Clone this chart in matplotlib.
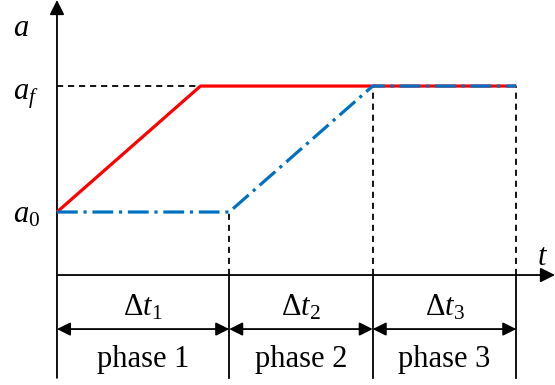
"""
Acceleration profile over three phases: the red line ramps a0 -> af during
phase 1, the blue dash-dot line holds a0 through phase 1 and ramps in phase 2.
"""

import matplotlib

matplotlib.use("Agg")
import matplotlib.pyplot as plt

plt.rcParams["font.family"] = ["Liberation Serif", "DejaVu Serif"]
plt.rcParams["mathtext.fontset"] = "custom"
plt.rcParams["mathtext.rm"] = "Liberation Serif"
plt.rcParams["mathtext.it"] = "Liberation Serif:italic"

# phase boundaries in time units
T_BREAKS = [0.0, 1.2, 2.2, 3.2]
A0, AF = 0.0, 1.0

# red profile: ramp during phase 1, then hold
RED_T = [0.0, 1.0, 3.2]
RED_A = [A0, AF, AF]

# blue profile: hold during phase 1, ramp during phase 2, then hold
BLUE_T = [0.0, 1.2, 2.2, 3.2]
BLUE_A = [A0, A0, AF, AF]

DURATION_LABELS = [r"$\Delta t_1$", r"$\Delta t_2$", r"$\Delta t_3$"]
PHASE_LABELS = ["phase 1", "phase 2", "phase 3"]

AXIS_Y = -0.5      # level where the time axis is drawn
TABLE_BOTTOM = -1.317
ARROW_Y = -0.929
FS = 22

fig = plt.figure(figsize=(5.55, 3.85), dpi=100)
ax = fig.add_axes([0, 0, 1, 1])
ax.set_xlim(-0.397, 3.470)
ax.set_ylim(-1.373, 1.683)
ax.axis("off")

# axes with arrow heads
ax.annotate("", xy=(0, 1.683), xytext=(0, TABLE_BOTTOM),
            arrowprops=dict(arrowstyle="-|>", lw=1.3, color="black",
                            mutation_scale=22, shrinkA=0, shrinkB=0))
ax.annotate("", xy=(3.470, AXIS_Y), xytext=(0, AXIS_Y),
            arrowprops=dict(arrowstyle="-|>", lw=1.3, color="black",
                            mutation_scale=22, shrinkA=0, shrinkB=0))

# dashed guides
guide = dict(color="black", lw=1.3, ls=(0, (3.4, 2.7)))
ax.plot([0, T_BREAKS[2]], [AF, AF], **guide)
ax.plot([T_BREAKS[1], T_BREAKS[1]], [AXIS_Y, A0], **guide)
ax.plot([T_BREAKS[2], T_BREAKS[2]], [AXIS_Y, AF], **guide)
ax.plot([T_BREAKS[3], T_BREAKS[3]], [AXIS_Y, AF], **guide)

# profiles
ax.plot(RED_T, RED_A, color="#ff0000", lw=2.3, solid_capstyle="butt", zorder=3)
ax.plot(BLUE_T, BLUE_A, color="#0070c0", lw=2.3,
        ls=(0, (6.5, 1.8, 1.0, 1.8)), zorder=4)

# phase table under the time axis
for t in T_BREAKS[1:]:
    ax.plot([t, t], [AXIS_Y, TABLE_BOTTOM], color="black", lw=1.3)

for i in range(3):
    t_lo, t_hi = T_BREAKS[i], T_BREAKS[i + 1]
    ax.annotate("", xy=(t_hi, ARROW_Y), xytext=(t_lo, ARROW_Y),
                arrowprops=dict(arrowstyle="<|-|>", lw=1.3, color="black",
                                mutation_scale=20, shrinkA=0, shrinkB=0))
    mid = (t_lo + t_hi) / 2
    ax.text(mid, -0.82, DURATION_LABELS[i], fontsize=FS, ha="center",
            va="baseline")
    ax.text(mid, -1.23, PHASE_LABELS[i], fontsize=FS, ha="center",
            va="baseline")

# axis labels
ax.text(-0.307, 1.40, r"$a$", fontsize=FS, ha="left", va="baseline")
ax.text(-0.307, 0.89, r"$a_f$", fontsize=FS, ha="left", va="baseline")
ax.text(-0.307, -0.08, r"$a_0$", fontsize=FS, ha="left", va="baseline")
ax.text(3.345, -0.42, r"$t$", fontsize=FS, ha="left", va="baseline")

fig.savefig("out.png", dpi=100)
